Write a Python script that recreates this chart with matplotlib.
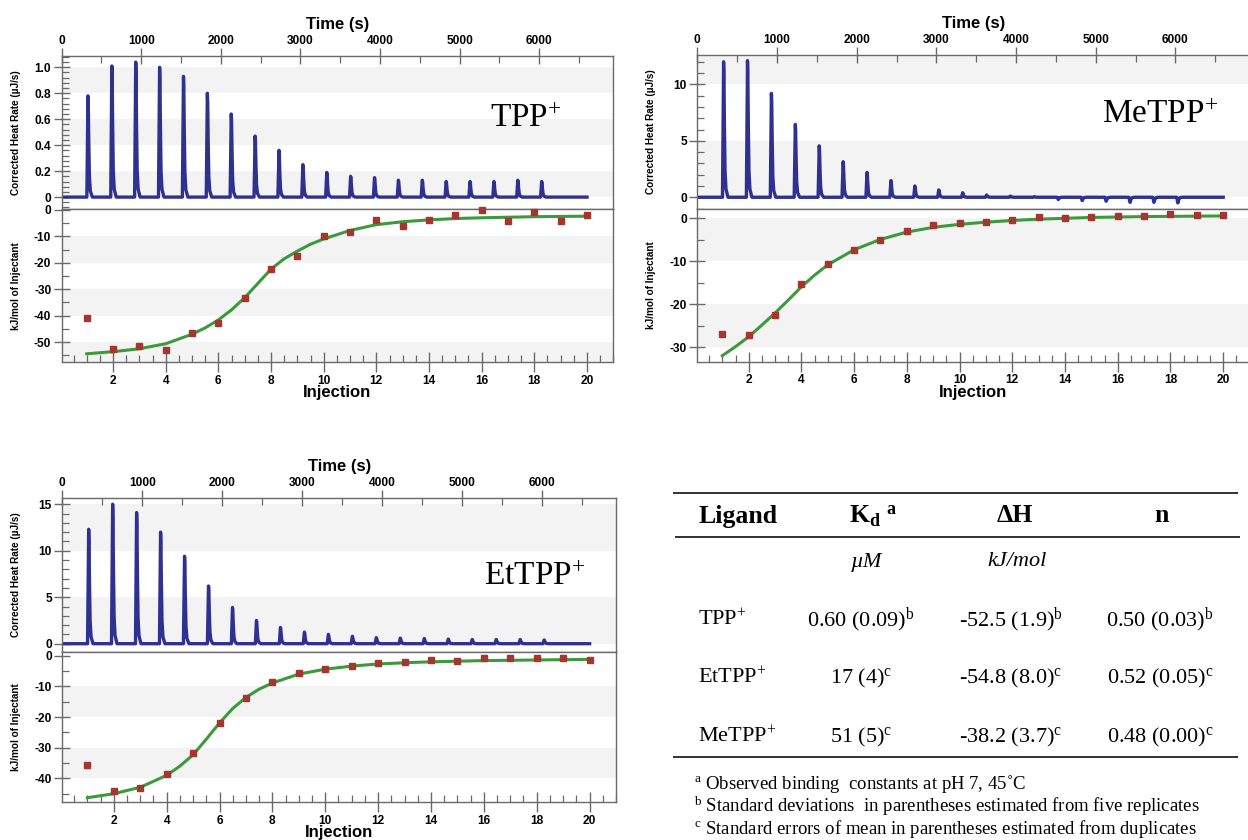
import numpy as np
import matplotlib
matplotlib.use('Agg')
import matplotlib.pyplot as plt
from matplotlib.ticker import MultipleLocator, FuncFormatter

plt.rcParams['font.family'] = ['Liberation Sans', 'DejaVu Sans']
plt.rcParams['font.weight'] = 'bold'
plt.rcParams['mathtext.fontset'] = 'custom'
plt.rcParams['mathtext.rm'] = 'Liberation Serif:normal'
plt.rcParams['mathtext.it'] = 'Liberation Serif:italic:normal'
plt.rcParams['mathtext.bf'] = 'Liberation Serif:bold'

W, H = 1248, 840

# ---- data ----
injection = np.arange(1, 21)
peak_time = [330, 630, 930, 1230, 1530, 1830, 2130, 2430, 2730, 3030,
             3330, 3630, 3930, 4230, 4530, 4830, 5130, 5430, 5730, 6030]
run_end = 6600

# peak heights of the corrected heat rate (uJ/s)
tpp_peak = [0.78, 1.01, 1.04, 1.00, 0.93, 0.80, 0.64, 0.47, 0.36, 0.25,
            0.19, 0.16, 0.15, 0.13, 0.13, 0.12, 0.12, 0.12, 0.13, 0.12]
metpp_peak = [12.0, 12.1, 9.2, 6.45, 4.55, 3.15, 2.2, 1.48, 1.0, 0.65,
              0.4, 0.2, 0.1, 0.05, -0.2, -0.3, -0.35, -0.45, -0.45, -0.5]
ettpp_peak = [12.3, 15.0, 14.1, 12.0, 9.4, 6.2, 3.9, 2.5, 1.75, 1.25,
              1.0, 0.8, 0.65, 0.6, 0.55, 0.5, 0.45, 0.45, 0.45, 0.4]

# shape of one injection peak, relative to its maximum
profile_dt = [-14, -8, 0, 4, 10, 18, 30, 55]
profile_frac = [0, 0.45, 1.0, 0.92, 0.55, 0.2, 0.06, 0]

# integrated heats (kJ/mol of injectant)
tpp_heat = [-40.9, -52.4, -51.5, -53.1, -46.5, -42.8, -33.2, -22.3, -17.5, -10.0,
            -8.2, -3.9, -6.0, -3.9, -1.9, -0.1, -4.4, -1.0, -4.4, -1.9]
metpp_heat = [-26.9, -27.0, -22.5, -15.3, -10.6, -7.3, -5.0, -2.9, -1.5, -1.0,
              -0.8, -0.3, 0.2, 0.1, 0.3, 0.6, 0.5, 1.0, 0.7, 0.7]
ettpp_heat = [-35.5, -44.1, -43.2, -38.6, -31.8, -22.1, -13.9, -8.6, -5.8, -4.4,
              -3.4, -2.5, -2.0, -1.4, -1.8, -0.9, -0.9, -0.8, -0.8, -1.3]

# fitted curves
tpp_fit_x = [1, 2, 3, 4, 5, 5.5, 6, 6.5, 7, 7.5, 8, 8.5, 9, 9.5, 10,
             11, 12, 13, 14, 15, 16, 17, 18, 19, 20]
tpp_fit_y = [-54.4, -53.6, -52.5, -50.6, -47.0, -44.6, -41.6, -37.8, -33.2, -27.8,
             -22.4, -18.5, -15.6, -13.0, -11.0, -7.8, -5.6, -4.5, -3.8, -3.3,
             -3.0, -2.8, -2.6, -2.5, -2.4]
metpp_fit_x = [1, 1.5, 2, 2.5, 3, 3.5, 4, 4.5, 5, 6, 7, 8, 9, 10,
               11, 12, 13, 14, 15, 16, 17, 18, 19, 20]
metpp_fit_y = [-31.9, -29.8, -27.5, -24.8, -22.0, -19.0, -15.9, -13.2, -10.8, -7.3,
               -4.9, -3.2, -2.1, -1.4, -0.9, -0.5, -0.2, 0.0, 0.2, 0.3,
               0.4, 0.45, 0.5, 0.55]
ettpp_fit_x = [1, 2, 3, 4, 4.5, 5, 5.5, 6, 6.5, 7, 7.5, 8, 9, 10,
               11, 12, 13, 14, 15, 16, 17, 18, 19, 20]
ettpp_fit_y = [-46.3, -45.0, -42.9, -39.0, -36.0, -32.3, -27.2, -21.9, -17.2, -13.6,
               -10.9, -8.9, -6.0, -4.4, -3.4, -2.7, -2.3, -2.0, -1.8, -1.6,
               -1.5, -1.4, -1.3, -1.2]

# table
ligands = ['TPP', 'EtTPP', 'MeTPP']
kd_text = ['0.60 (0.09)', '17 (4)', '51 (5)']
dh_text = ['-52.5 (1.9)', '-54.8 (8.0)', '-38.2 (3.7)']
n_text = ['0.50 (0.03)', '0.52 (0.05)', '0.48 (0.00)']
note_mark = ['b', 'c', 'c']
footnotes = [('a', 'Observed binding  constants at pH 7, 45˚C'),
             ('b', 'Standard deviations  in parentheses estimated from five replicates'),
             ('c', 'Standard errors of mean in parentheses estimated from duplicates')]

trace_color = '#2e3192'
fit_color = '#3c9a3c'
point_color = '#a3362f'
band_color = '#f3f3f3'
spine_color = '#6a6a6a'


def rect(x0, y0, x1, y1):
    return [x0 / W, 1 - y1 / H, (x1 - x0) / W, (y1 - y0) / H]


def thermogram(heights):
    t = [0.0]
    q = [0.0]
    for tp, h in zip(peak_time, heights):
        for dt, f in zip(profile_dt, profile_frac):
            t.append(tp + dt)
            q.append(h * f)
    t.append(run_end)
    q.append(0.0)
    return t, q


def style_axes(ax):
    for s in ax.spines.values():
        s.set_color(spine_color)
        s.set_linewidth(1.0)
    ax.tick_params(which='major', direction='inout', length=11, width=1.0,
                   color=spine_color, labelsize=8.6)
    ax.tick_params(which='minor', direction='in', length=5, width=0.9, color=spine_color)
    ax.tick_params(axis='y', which='both', left=True, right=False, pad=2)


def draw_panel(top_rect, bot_rect, heights, rate_lim, rate_step, rate_minor, rate_fmt, rate_bands,
               heats, fit_x, fit_y, heat_lim, heat_bands, name, name_xy):
    ax1 = fig.add_axes(top_rect)
    ax2 = fig.add_axes(bot_rect)

    # thermogram
    t, q = thermogram(heights)
    for b0, b1 in rate_bands:
        ax1.axhspan(b0, b1, color=band_color, zorder=0, lw=0)
    ax1.plot(t, q, color=trace_color, lw=2.4, solid_joinstyle='round')
    ax1.set_xlim(0, 6930)
    ax1.set_ylim(*rate_lim)
    style_axes(ax1)
    ax1.xaxis.tick_top()
    ax1.xaxis.set_major_locator(MultipleLocator(1000))
    ax1.xaxis.set_minor_locator(MultipleLocator(500))
    ax1.tick_params(axis='x', which='both', top=True, bottom=False, pad=1)
    ax1.yaxis.set_major_locator(MultipleLocator(rate_step))
    ax1.yaxis.set_minor_locator(MultipleLocator(rate_minor))
    ax1.yaxis.set_major_formatter(FuncFormatter(rate_fmt))
    ax1.text(0.5, 1 + 31 / 153, 'Time (s)', transform=ax1.transAxes,
             ha='center', va='center', fontsize=12)
    ax1.text(-46 / 552, 0.5, 'Corrected Heat Rate (µJ/s)', transform=ax1.transAxes,
             rotation=90, ha='center', va='center', fontsize=7.2)
    ax1.text(name_xy[0], name_xy[1], name + r'$^{+}$', transform=ax1.transAxes, ha='right',
             va='baseline', fontsize=24, fontweight='normal', family='Liberation Serif')

    # binding isotherm
    for b0, b1 in heat_bands:
        ax2.axhspan(b0, b1, color=band_color, zorder=0, lw=0)
    ax2.plot(fit_x, fit_y, color=fit_color, lw=2.2, zorder=2)
    ax2.plot(injection, heats, 's', color=point_color, ms=4, zorder=3, clip_on=False)
    ax2.set_xlim(0.05, 21.0)
    ax2.set_ylim(*heat_lim)
    style_axes(ax2)
    ax2.xaxis.set_major_locator(MultipleLocator(2))
    ax2.xaxis.set_minor_locator(MultipleLocator(0.5))
    ax2.xaxis.set_major_formatter(FuncFormatter(lambda v, p: '%d' % v if v > 0 else ''))
    ax2.tick_params(axis='x', which='both', top=False, bottom=True, pad=2)
    ax2.tick_params(axis='x', which='major', length=14)
    ax2.yaxis.set_major_locator(MultipleLocator(10))
    ax2.yaxis.set_minor_locator(MultipleLocator(5))
    ax2.yaxis.set_major_formatter(FuncFormatter(lambda v, p: '%d' % v))
    ax2.text(0.5, -31 / 153, 'Injection', transform=ax2.transAxes,
             ha='center', va='center', fontsize=12)
    ax2.text(-46 / 552, 0.5, 'kJ/mol of Injectant', transform=ax2.transAxes,
             rotation=90, ha='center', va='center', fontsize=7.2)
    return ax1, ax2


fig = plt.figure(figsize=(W / 100, H / 100), dpi=100)

tpp_fmt = lambda v, p: '0' if abs(v) < 1e-9 else '%.1f' % v
int_fmt = lambda v, p: '%d' % round(v)

draw_panel(rect(61.7, 56, 613.3, 209.3), rect(61.7, 209.3, 613.3, 362),
           tpp_peak, (-0.094, 1.087), 0.2, 0.04, tpp_fmt,
           [(0, 0.2), (0.4, 0.6), (0.8, 1.0)],
           tpp_heat, tpp_fit_x, tpp_fit_y, (-57.5, 0.2),
           [(-10, -20), (-30, -40), (-50, -57.5)], 'TPP', (0.907, 0.539))

draw_panel(rect(697.3, 55, 1249.5, 209), rect(697.3, 209, 1249.5, 361.7),
           metpp_peak, (-1.04, 12.6), 5, 1, int_fmt,
           [(0, 5), (10, 12.6)],
           metpp_heat, metpp_fit_x, metpp_fit_y, (-33.3, 2.16),
           [(0, -10), (-20, -30)], 'MeTPP', (0.943, 0.556))

draw_panel(rect(62.3, 497.7, 616, 651.7), rect(62.3, 651.7, 616, 802),
           ettpp_peak, (-0.86, 15.7), 5, 1, int_fmt,
           [(0, 5), (10, 15)],
           ettpp_heat, ettpp_fit_x, ettpp_fit_y, (-47.7, 1.3),
           [(-10, -20), (-30, -40)], 'EtTPP', (0.944, 0.433))

# table overlay in pixel coordinates
tab = fig.add_axes([0, 0, 1, 1])
tab.set_xlim(0, W)
tab.set_ylim(H, 0)
tab.axis('off')
tab.set_zorder(10)

serif = 'Liberation Serif'
for y, x0, x1 in [(492.7, 673, 1238), (537.3, 675, 1240), (756.7, 673, 1238)]:
    tab.plot([x0, x1], [y, y], color='#222222', lw=1.3, solid_capstyle='butt')

tab.text(738, 516, 'Ligand', ha='center', va='center', fontsize=18.5, family=serif, fontweight='bold')
tab.text(873, 516, r'K$_{\mathbf{d}}$ $^{\mathbf{a}}$', ha='center', va='center', fontsize=18.5,
         family=serif, fontweight='bold')
tab.text(1015, 516, 'ΔH', ha='center', va='center', fontsize=18.5, family=serif, fontweight='bold')
tab.text(1161, 516, 'n', ha='center', va='center', fontsize=18.5, family=serif, fontweight='bold')
tab.text(866, 562, 'µM', ha='center', va='center', fontsize=16, family=serif,
         fontweight='normal', fontstyle='italic')
tab.text(1017, 562, 'kJ/mol', ha='center', va='center', fontsize=16, family=serif,
         fontweight='normal', fontstyle='italic')

row_y = [620, 678, 737]
for i in range(3):
    mark = r'$^{\mathrm{%s}}$' % note_mark[i]
    tab.text(698, row_y[i], ligands[i] + r'$^{+}$', ha='left', va='center', fontsize=16,
             family=serif, fontweight='normal')
    tab.text(861, row_y[i], kd_text[i] + mark, ha='center', va='center', fontsize=16,
             family=serif, fontweight='normal')
    tab.text(1011, row_y[i], dh_text[i] + mark, ha='center', va='center', fontsize=16,
             family=serif, fontweight='normal')
    tab.text(1160, row_y[i], n_text[i] + mark, ha='center', va='center', fontsize=16,
             family=serif, fontweight='normal')

for i, (m, txt) in enumerate(footnotes):
    tab.text(694, 784 + 22.6 * i, r'$^{\mathrm{%s}}$ ' % m + txt, ha='left', va='center',
             fontsize=13.5, family=serif, fontweight='normal')

fig.savefig('out.png', dpi=100)
